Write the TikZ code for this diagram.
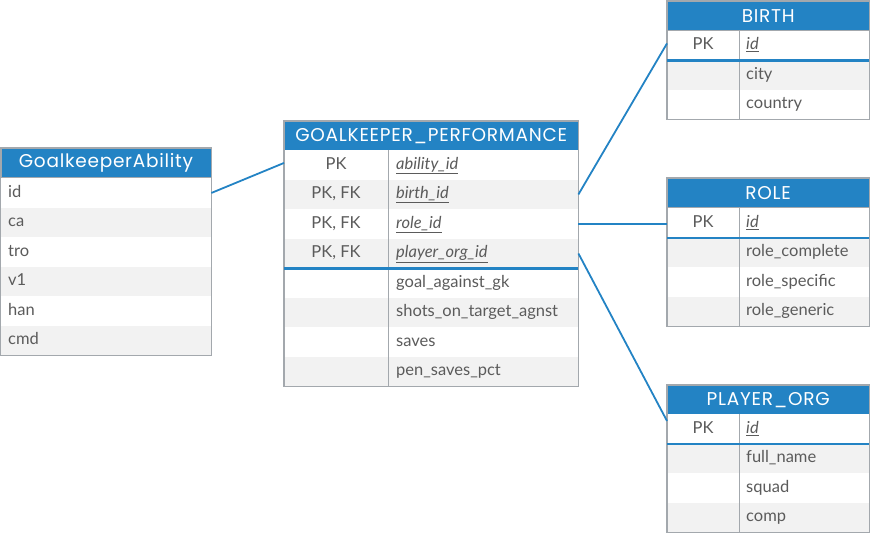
\documentclass[tikz,border=0pt]{standalone}
\usepackage{fontspec}
\setmainfont{Lato}
\newfontfamily\hdrfont{Poppins}[LetterSpace=4]
\usetikzlibrary{positioning,calc}

\definecolor{hdrblue}{HTML}{2383C4}
\definecolor{rowgray}{HTML}{F2F2F2}
\definecolor{bordergray}{HTML}{A3A8AD}
\definecolor{txtgray}{HTML}{5B5B5B}
\newcommand{\pkey}[1]{\textit{\underline{#1}}}

\tikzset{
  hdr/.style={draw=bordergray, fill=hdrblue, text=white, inner sep=0pt,
    minimum height=29.5, anchor=north west, font=\hdrfont\fontsize{18.5}{18.5}\selectfont},
  row1/.style={fill=white},
  row0/.style={fill=rowgray},
  rowbox/.style={inner sep=0pt, minimum height=29.5, anchor=north west},
  keytxt/.style={inner sep=0pt, text=txtgray, text height=12pt, text depth=3.5pt,
    font=\fontsize{16.5}{19}\selectfont},
  fldtxt/.style={keytxt, anchor=west},
  tbl/.style={draw=bordergray, line width=1.2pt},
  keyline/.style={draw=hdrblue, line width=2.6pt},
  link/.style={draw=hdrblue, line width=1.8pt},
}

\begin{document}
\begin{tikzpicture}[x=1pt, y=-1pt]
\useasboundingbox (0,0) rectangle (870,534);

% GoalkeeperAbility
\node[hdr, minimum width=210.5] (gka) at (0.5,148) {GoalkeeperAbility};
\foreach \f [count=\i] in {id, ca, tro, v1, han, cmd} {
  \pgfmathtruncatemacro\rp{mod(\i,2)}
  \node[rowbox, row\rp, minimum width=210.5] (gka-r\i) at (0.5,{178+29.5*(\i-1)}) {};
  \node[fldtxt] at ([xshift=7.5]gka-r\i.west) {\f};
}
\draw[tbl] (gka.north west) rectangle (gka-r6.south east);

% GOALKEEPER_PERFORMANCE
\node[hdr, minimum width=294] (gkp) at (284,121) {GOALKEEPER\_PERFORMANCE};
\foreach \k/\f [count=\i] in {PK/\pkey{ability\_id}, {PK, FK}/\pkey{birth\_id},
    {PK, FK}/\pkey{role\_id}, {PK, FK}/\pkey{player\_org\_id},
    {}/goal\_against\_gk, {}/shots\_on\_target\_agnst, {}/saves, {}/pen\_saves\_pct} {
  \pgfmathtruncatemacro\rp{mod(\i,2)}
  \node[rowbox, row\rp, minimum width=294] (gkp-r\i) at (284,{150+29.5*(\i-1)}) {};
  \node[keytxt] at ([xshift=52]gkp-r\i.west) {\k};
  \node[fldtxt] at ([xshift=112]gkp-r\i.west) {\f};
}
\draw[tbl] (gkp.north west) rectangle (gkp-r8.south east);
\draw[tbl, line width=1pt] ([xshift=104]gkp-r1.north west) -- ([xshift=104]gkp-r8.south west);
\draw[keyline] (gkp-r4.south west) -- (gkp-r4.south east);

% BIRTH
\node[hdr, minimum width=202] (birth) at (667,1) {BIRTH};
\foreach \k/\f [count=\i] in {PK/\pkey{id}, {}/city, {}/country} {
  \pgfmathtruncatemacro\rp{mod(\i,2)}
  \node[rowbox, row\rp, minimum width=202] (birth-r\i) at (667,{30.5+29.5*(\i-1)}) {};
  \node[keytxt] at ([xshift=36]birth-r\i.west) {\k};
  \node[fldtxt] at ([xshift=79]birth-r\i.west) {\f};
}
\draw[tbl] (birth.north west) rectangle (birth-r3.south east);
\draw[tbl, line width=1pt] ([xshift=72]birth-r1.north west) -- ([xshift=72]birth-r3.south west);
\draw[keyline] (birth-r1.south west) -- (birth-r1.south east);

% ROLE
\node[hdr, minimum width=202] (role) at (667,178) {ROLE};
\foreach \k/\f [count=\i] in {PK/\pkey{id}, {}/role\_complete, {}/role\_specific, {}/role\_generic} {
  \pgfmathtruncatemacro\rp{mod(\i,2)}
  \node[rowbox, row\rp, minimum width=202] (role-r\i) at (667,{208+29.5*(\i-1)}) {};
  \node[keytxt] at ([xshift=36]role-r\i.west) {\k};
  \node[fldtxt] at ([xshift=79]role-r\i.west) {\f};
}
\draw[tbl] (role.north west) rectangle (role-r4.south east);
\draw[tbl, line width=1pt] ([xshift=72]role-r1.north west) -- ([xshift=72]role-r4.south west);
\draw[keyline] (role-r1.south west) -- (role-r1.south east);

% PLAYER_ORG
\node[hdr, minimum width=202] (porg) at (667,385) {PLAYER\_ORG};
\foreach \k/\f [count=\i] in {PK/\pkey{id}, {}/full\_name, {}/squad, {}/comp} {
  \pgfmathtruncatemacro\rp{mod(\i,2)}
  \node[rowbox, row\rp, minimum width=202] (porg-r\i) at (667,{414+29.5*(\i-1)}) {};
  \node[keytxt] at ([xshift=36]porg-r\i.west) {\k};
  \node[fldtxt] at ([xshift=79]porg-r\i.west) {\f};
}
\draw[tbl] (porg.north west) rectangle (porg-r4.south east);
\draw[tbl, line width=1pt] ([xshift=72]porg-r1.north west) -- ([xshift=72]porg-r4.south west);
\draw[keyline] (porg-r1.south west) -- (porg-r1.south east);

% links
\draw[link] (gka-r1.east) -- ([yshift=2]gkp-r1.west);
\draw[link] (gkp-r2.east) -- ([yshift=2]birth-r1.west);
\draw[link] (gkp-r3.east) -- ([yshift=-1]role-r1.west);
\draw[link] (gkp-r4.east) -- ([yshift=8]porg-r1.west);
\end{tikzpicture}
\end{document}
